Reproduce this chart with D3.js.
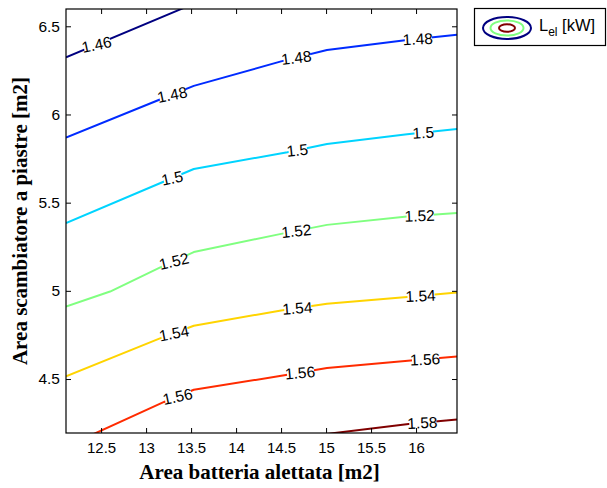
<!DOCTYPE html>
<html>
<head>
<meta charset="utf-8">
<script src="https://cdn.jsdelivr.net/npm/d3@7"></script>
<style>
  html, body { margin: 0; padding: 0; background: #fff; }
  svg { display: block; }
</style>
</head>
<body>
<svg id="chart" width="607" height="488"></svg>
<script>
// ---- Data ----
const levels = [1.46, 1.48, 1.5, 1.52, 1.54, 1.56, 1.58];
const levelLabels = ["1.46", "1.48", "1.5", "1.52", "1.54", "1.56", "1.58"];
const levelColors = ["#000080", "#002BFF", "#00D4FF", "#80FF80", "#FFD400", "#FF2B00", "#800000"];

const line146 = [[12.11, 6.324], [13.40, 6.600], [13.50, 6.621]];
const line148 = [[12.11, 5.869], [13.14, 6.082], [13.53, 6.162], [14.50, 6.301], [15.01, 6.366], [15.90, 6.422], [16.455, 6.452]];
const line150 = [[12.11, 5.384], [13.20, 5.620], [13.53, 5.691], [14.57, 5.786], [15.01, 5.833], [15.90, 5.888], [16.455, 5.918]];
const line152 = [[12.11, 4.911], [12.60, 4.996], [13.14, 5.129], [13.53, 5.220], [14.50, 5.323], [15.01, 5.374], [15.90, 5.421], [16.455, 5.441]];
const line154 = [[12.11, 4.515], [13.14, 4.728], [13.53, 4.802], [14.50, 4.889], [15.01, 4.927], [15.90, 4.965], [16.455, 4.991]];
const line156 = [[12.36, 4.175], [13.20, 4.370], [13.53, 4.439], [14.57, 4.524], [15.01, 4.562], [15.94, 4.605], [16.455, 4.628]];
const line158 = [[15.00, 4.188], [15.94, 4.247], [16.455, 4.270]];
const contourLines = [line146, line148, line150, line152, line154, line156, line158];

// label centres (x in data units) for each level
const labelX146 = [12.45];
const labelX148 = [13.29, 14.67, 16.02];
const labelX150 = [13.29, 14.68, 16.08];
const labelX152 = [13.31, 14.67, 16.04];
const labelX154 = [13.31, 14.68, 16.05];
const labelX156 = [13.35, 14.71, 16.10];
const labelX158 = [16.07];
const labelXs = [labelX146, labelX148, labelX150, labelX152, labelX154, labelX156, labelX158];

const xTicks = [12.5, 13, 13.5, 14, 14.5, 15, 15.5, 16];
const yTicks = [4.5, 5, 5.5, 6, 6.5];
const xDomain = [12.11, 16.455];
const yDomain = [4.194, 6.598];

const xTitle = "Area batteria alettata [m2]";
const yTitle = "Area scambiatore a piastre [m2]";

// ---- Layout ----
const L = 66, R = 457, T = 9, B = 433;
const svg = d3.select("#chart");
const x = d3.scaleLinear().domain(xDomain).range([L, R]);
const y = d3.scaleLinear().domain(yDomain).range([B, T]);

svg.append("defs").append("clipPath").attr("id", "plotclip")
  .append("rect").attr("x", L).attr("y", T).attr("width", R - L).attr("height", B - T);

const plot = svg.append("g").attr("clip-path", "url(#plotclip)");
const lineGen = d3.line().x(d => x(d[0])).y(d => y(d[1]));

contourLines.forEach((pts, i) => {
  plot.append("path").datum(pts)
    .attr("d", lineGen)
    .attr("fill", "none")
    .attr("stroke", levelColors[i])
    .attr("stroke-width", 2)
    .attr("stroke-linejoin", "round");
});

// labels
function locate(pts, xv) {
  for (let k = 0; k < pts.length - 1; k++) {
    const a = pts[k], b = pts[k + 1];
    if (xv >= a[0] && xv <= b[0]) {
      const t = (xv - a[0]) / (b[0] - a[0]);
      const yv = a[1] + t * (b[1] - a[1]);
      const ang = Math.atan2(b[1] - a[1], b[0] - a[0]) * 180 / Math.PI;
      return { x: xv, y: yv, ang: ang };
    }
  }
  return null;
}

const font = "Liberation Sans, Arial, sans-serif";
const labelLayer = svg.append("g").attr("clip-path", "url(#plotclip)");
labelXs.forEach((xs, i) => {
  xs.forEach(xv => {
    const p = locate(contourLines[i], xv);
    if (!p) return;
    const g = labelLayer.append("g")
      .attr("transform", `translate(${x(p.x)},${y(p.y)}) rotate(${-p.ang})`);
    const txt = g.append("text")
      .attr("text-anchor", "middle")
      .attr("dy", "0.36em")
      .attr("font-family", font)
      .attr("font-size", 15.5)
      .attr("fill", "#000")
      .text(levelLabels[i]);
    const w = txt.node().getComputedTextLength();
    g.insert("rect", "text")
      .attr("x", -w / 2 + 2).attr("y", -4)
      .attr("width", w - 3).attr("height", 8)
      .attr("fill", "#fff");
  });
});

// axes box
svg.append("rect").attr("x", L).attr("y", T).attr("width", R - L).attr("height", B - T)
  .attr("fill", "none").attr("stroke", "#000").attr("stroke-width", 1.2);

const tickLen = 5;

const xAxisB = d3.axisBottom(x).tickValues(xTicks).tickSizeInner(-tickLen).tickSizeOuter(0).tickPadding(9).tickFormat(d3.format("~g"));
const gxB = svg.append("g").attr("transform", `translate(0,${B})`).call(xAxisB);
gxB.select(".domain").remove();
gxB.selectAll("text").attr("font-family", font).attr("font-size", 15).attr("fill", "#000");
gxB.selectAll("line").attr("stroke", "#000");

const xAxisT = d3.axisTop(x).tickValues(xTicks).tickSizeInner(-tickLen).tickSizeOuter(0).tickFormat("");
const gxT = svg.append("g").attr("transform", `translate(0,${T})`).call(xAxisT);
gxT.select(".domain").remove();
gxT.selectAll("line").attr("stroke", "#000");

const yAxisL = d3.axisLeft(y).tickValues(yTicks).tickSizeInner(-tickLen).tickSizeOuter(0).tickPadding(6).tickFormat(d3.format("~g"));
const gyL = svg.append("g").attr("transform", `translate(${L},0)`).call(yAxisL);
gyL.select(".domain").remove();
gyL.selectAll("text").attr("font-family", font).attr("font-size", 15.5).attr("fill", "#000");
gyL.selectAll("line").attr("stroke", "#000");

const yAxisR = d3.axisRight(y).tickValues(yTicks).tickSizeInner(-tickLen).tickSizeOuter(0).tickFormat("");
const gyR = svg.append("g").attr("transform", `translate(${R},0)`).call(yAxisR);
gyR.select(".domain").remove();
gyR.selectAll("line").attr("stroke", "#000");

// axis titles
svg.append("text")
  .attr("x", (L + R) / 2 - 2).attr("y", 479)
  .attr("text-anchor", "middle")
  .attr("font-family", "Liberation Serif, Times New Roman, serif")
  .attr("font-weight", "bold").attr("font-size", 21)
  .attr("fill", "#000")
  .text(xTitle);

svg.append("text")
  .attr("transform", `translate(27,${(T + B) / 2}) rotate(-90)`)
  .attr("text-anchor", "middle")
  .attr("font-family", "Liberation Serif, Times New Roman, serif")
  .attr("font-weight", "bold").attr("font-size", 21)
  .attr("fill", "#000")
  .text(yTitle);

// legend
const lg = svg.append("g");
lg.append("rect").attr("x", 474.5).attr("y", 8.5).attr("width", 131).attr("height", 37)
  .attr("fill", "#fff").attr("stroke", "#000").attr("stroke-width", 1.2);
const cx = 507, cy = 28;
lg.append("ellipse").attr("cx", cx).attr("cy", cy).attr("rx", 24).attr("ry", 11)
  .attr("fill", "none").attr("stroke", levelColors[0]).attr("stroke-width", 2);
lg.append("ellipse").attr("cx", cx).attr("cy", cy).attr("rx", 16.5).attr("ry", 7.5)
  .attr("fill", "none").attr("stroke", levelColors[3]).attr("stroke-width", 2);
lg.append("ellipse").attr("cx", cx).attr("cy", cy).attr("rx", 8).attr("ry", 3.8)
  .attr("fill", "none").attr("stroke", levelColors[6]).attr("stroke-width", 2);
const lt = lg.append("text").attr("x", 539).attr("y", 31)
  .attr("font-family", font).attr("font-size", 16.5).attr("fill", "#000");
lt.append("tspan").text("L");
lt.append("tspan").attr("dy", 5).attr("font-size", 12).text("el");
lt.append("tspan").attr("dy", -5).text(" [kW]");
</script>
</body>
</html>
